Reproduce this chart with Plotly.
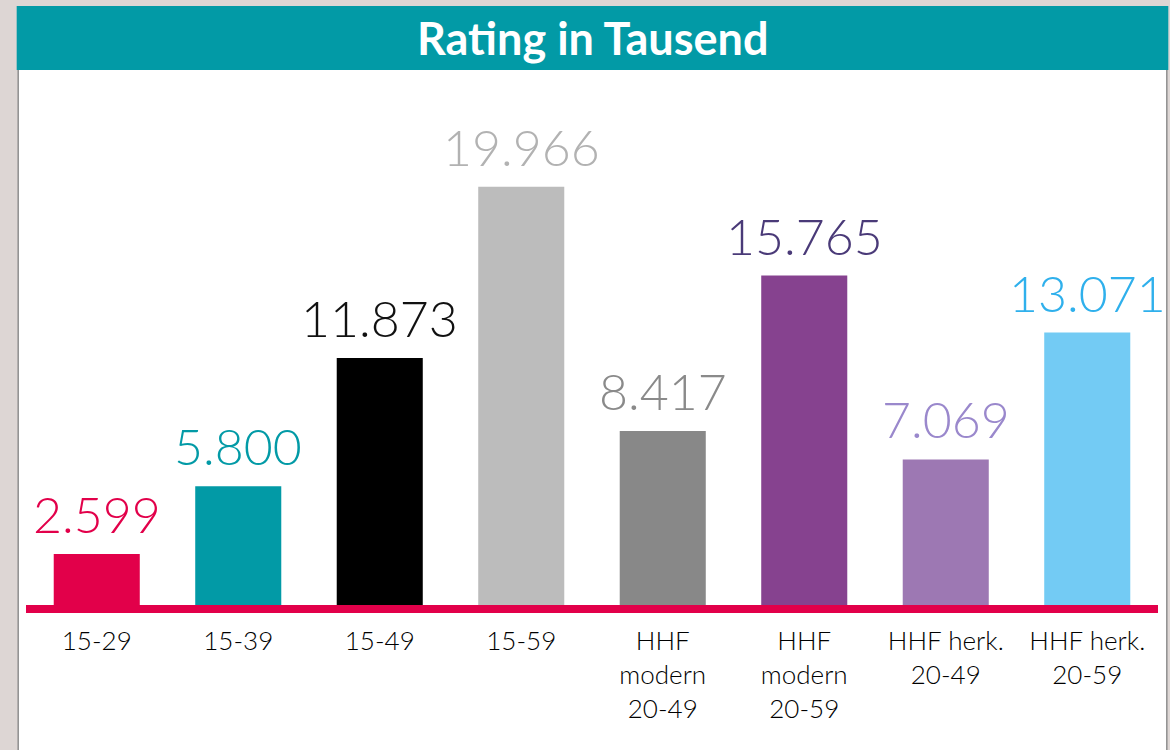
import plotly.graph_objects as go

categories = ["15-29", "15-39", "15-49", "15-59", "HHF modern 20-49", "HHF modern 20-59", "HHF herk. 20-49", "HHF herk. 20-59"]
tick_labels = ["15-29", "15-39", "15-49", "15-59", "HHF<br>modern<br>20-49", "HHF<br>modern<br>20-59", "HHF herk.<br>20-49", "HHF herk.<br>20-59"]
values = [2.599, 5.800, 11.873, 19.966, 8.417, 15.765, 7.069, 13.071]
value_text = ["2.599", "5.800", "11.873", "19.966", "8.417", "15.765", "7.069", "13.071"]
bar_colors = ["#e2004a", "#029aa6", "#000000", "#bcbcbc", "#888888", "#86428f", "#9d78b3", "#73cbf4"]
label_colors = ["#e2004a", "#029aa6", "#111111", "#b2b2b2", "#8a8a8a", "#4a3a78", "#9a88cc", "#2fb0ec"]
title = "Rating in Tausend"

W, H = 1170, 750
ml, mr, mt, mb = 26.3, 12.3, 70, 141
pw, ph = W - ml - mr, H - mt - mb

def px_x(p):
    return (p - ml) / pw

def px_y(p):
    return (H - mb - p) / ph

fig = go.Figure()
fig.add_trace(go.Bar(
    x=list(range(len(categories))), y=values,
    marker=dict(color=bar_colors, line=dict(width=0)),
    hoverinfo="skip",
))

annotations = []
for i, (v, t, c) in enumerate(zip(values, value_text, label_colors)):
    annotations.append(dict(
        x=i, y=v, xref="x", yref="y", text=t, showarrow=False,
        yanchor="bottom", xanchor="center", yshift=8,
        font=dict(family="Lato", size=50, color=c, weight=300),
    ))
annotations.append(dict(
    x=0.5, y=px_y(38), xref="paper", yref="paper", text=title, showarrow=False,
    xanchor="center", yanchor="middle",
    font=dict(family="Lato", size=45, color="white", weight=700),
))

shapes = [
    # white card
    dict(type="rect", xref="paper", yref="paper",
         x0=px_x(18.5), x1=px_x(1166.5), y0=px_y(752), y1=px_y(68),
         fillcolor="white", line=dict(color="#8f8f8f", width=1.5), layer="below"),
    # title bar
    dict(type="rect", xref="paper", yref="paper",
         x0=px_x(17), x1=px_x(1168), y0=px_y(70), y1=px_y(6),
         fillcolor="#029aa6", line=dict(width=0), layer="below"),
    # baseline (paper-referenced so it is not clipped)
    dict(type="line", xref="paper", yref="paper", x0=0, x1=1, y0=0, y1=0,
         line=dict(color="#e2004a", width=8), layer="above"),
]

fig.update_layout(
    width=W, height=H,
    margin=dict(l=ml, r=mr, t=mt, b=mb, pad=0),
    paper_bgcolor="#ddd6d4", plot_bgcolor="rgba(0,0,0,0)",
    bargap=0.392, showlegend=False,
    annotations=annotations, shapes=shapes,
    xaxis=dict(range=[-0.5, len(categories) - 0.5], tickmode="array",
               tickvals=list(range(len(categories))), ticktext=tick_labels,
               showgrid=False, zeroline=False, showline=False, ticks="",
               tickfont=dict(family="Lato", size=26, color="#000000", weight=300),
               ticklabelstandoff=14, fixedrange=True),
    yaxis=dict(range=[0, (H - mb - mt) / 21.15], showticklabels=False,
               showgrid=False, zeroline=False, showline=False, fixedrange=True),
)

fig.write_html("out.html", config={"displayModeBar": False},
               post_script="document.body.style.margin='0';document.body.style.overflow='hidden';")
